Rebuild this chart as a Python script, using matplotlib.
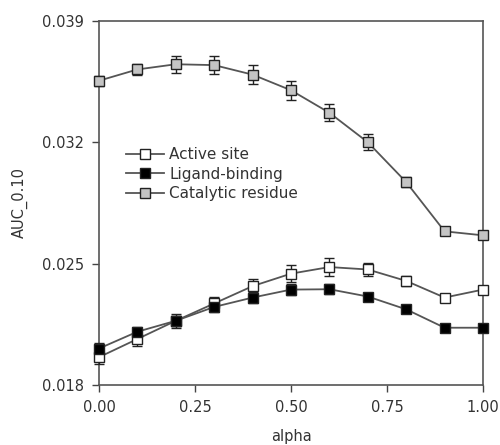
import matplotlib
matplotlib.use("Agg")
import matplotlib.pyplot as plt

alpha = [0.0, 0.1, 0.2, 0.3, 0.4, 0.5, 0.6, 0.7, 0.8, 0.9, 1.0]
active = [0.0196, 0.02065, 0.0217, 0.0227, 0.0237, 0.02442, 0.0248, 0.02466, 0.0240, 0.02304, 0.0235]
active_err = [0.0004, 0.0004, 0.0004, 0.0004, 0.0004, 0.0005, 0.0005, 0.0004, 0.0003, 0.0002, 0.0002]
ligand = [0.0201, 0.02107, 0.0217, 0.0225, 0.02304, 0.0235, 0.02352, 0.0231, 0.02236, 0.0213, 0.0213]
ligand_err = [0.0003, 0.0003, 0.0003, 0.0003, 0.0003, 0.0003, 0.0003, 0.0002, 0.0002, 0.0002, 0.0002]
catalytic = [0.03555, 0.0362, 0.0365, 0.03645, 0.0359, 0.0350, 0.0337, 0.0320, 0.0297, 0.02686, 0.02663]
catalytic_err = [0.0003, 0.0003, 0.0005, 0.0005, 0.00055, 0.00055, 0.0005, 0.00045, 0.0003, 0.0002, 0.0002]
yticks = [0.018, 0.025, 0.032, 0.039]
xticks = [0.0, 0.25, 0.5, 0.75, 1.0]

txt = "#333333"
line_c = "#555555"
fig = plt.figure(figsize=(5, 4.45), dpi=100)
ax = fig.add_axes([0.198, 0.135, 0.768, 0.818])

series = [
    (active, active_err, "white", "Active site"),
    (ligand, ligand_err, "black", "Ligand-binding"),
    (catalytic, catalytic_err, "#c4c4c4", "Catalytic residue"),
]
for vals, err, fc, lab in series:
    ax.errorbar(alpha, vals, yerr=err, color=line_c, lw=1.3, marker="s", ms=6.5,
                mfc=fc, mec="#222222", mew=1.0, ecolor="#222222", elinewidth=1.0,
                capsize=3.5, capthick=1.0, label=lab, clip_on=False, zorder=3)

ax.set_xlim(0, 1)
ax.set_ylim(0.018, 0.039)
ax.set_xticks(xticks)
ax.set_xticklabels([f"{t:.2f}" for t in xticks])
ax.set_yticks(yticks)
ax.set_yticklabels([f"{t:.3f}" for t in yticks])
ax.tick_params(direction="out", length=5, width=1, colors="#444444", labelcolor=txt, labelsize=10.5, pad=6)
for s in ax.spines.values():
    s.set_color("#555555")
    s.set_linewidth(1.2)
ax.set_xlabel("alpha", color=txt, fontsize=10.5, labelpad=10)
ax.set_ylabel("AUC_0.10", color=txt, fontsize=10.5, labelpad=10)

handles, labels = ax.get_legend_handles_labels()
handles = [h[0] for h in handles]
leg = ax.legend(handles, labels, loc="upper left", bbox_to_anchor=(0.055, 0.67), frameon=False,
                fontsize=11, handlelength=2.5, handletextpad=0.3, labelspacing=0.3, borderaxespad=0)
for t in leg.get_texts():
    t.set_color(txt)

fig.savefig("out.png", dpi=100)
